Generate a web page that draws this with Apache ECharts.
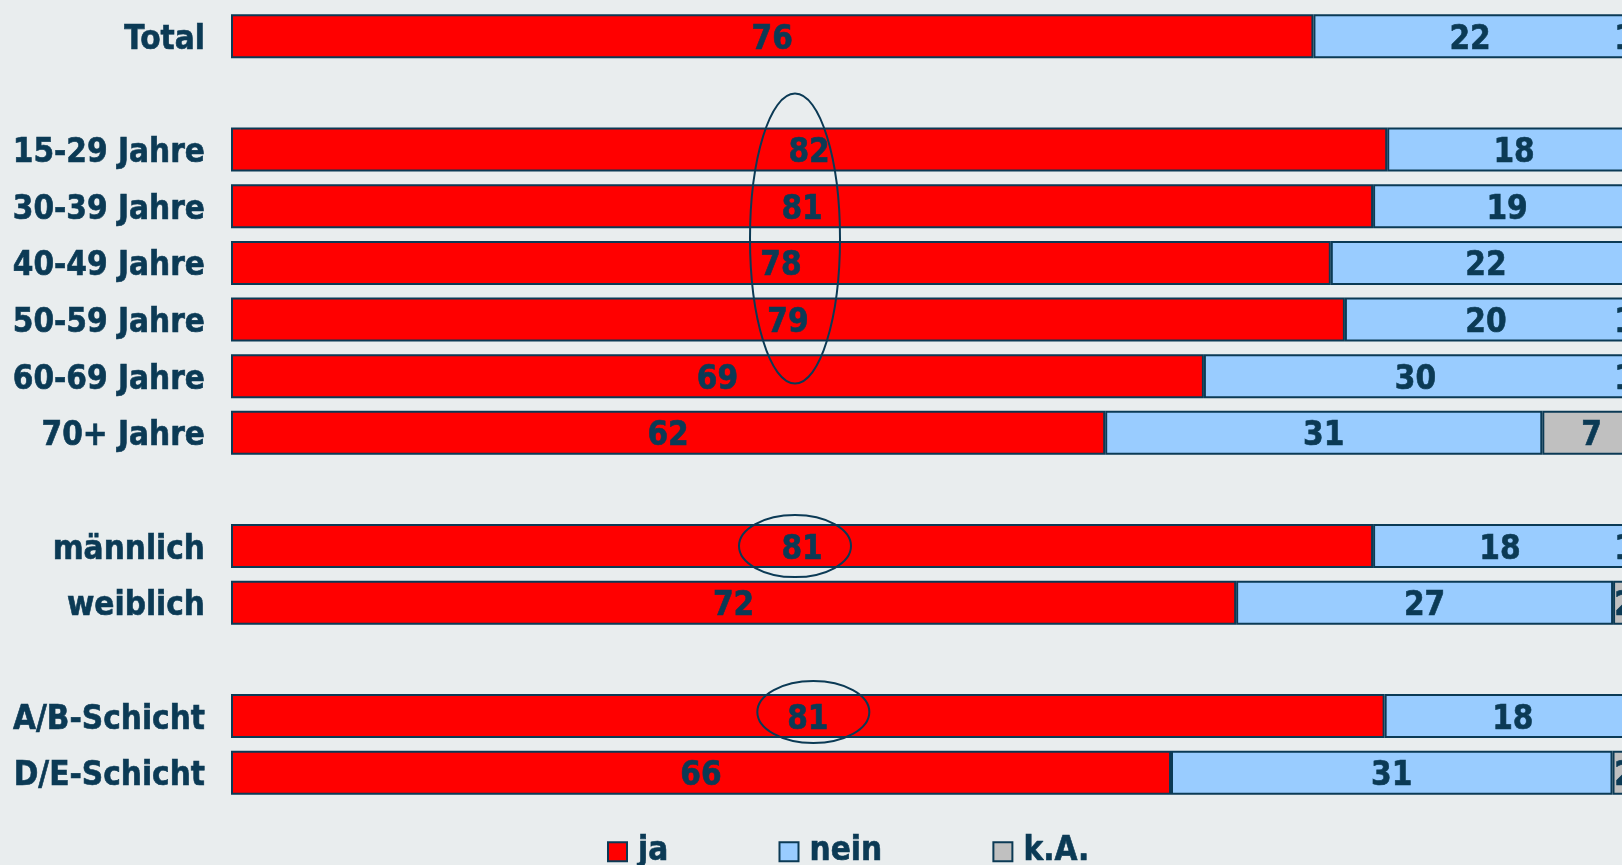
<!DOCTYPE html>
<html>
<head>
<meta charset="utf-8">
<script src="https://cdn.jsdelivr.net/npm/echarts@6/dist/echarts.min.js"></script>
<style>
  html, body { margin: 0; padding: 0; background: #e9edee; }
  #chart { width: 1622px; height: 865px; }
</style>
</head>
<body>
<div id="chart"></div>
<script>
// Rows from top to bottom; null marks an empty spacer row between groups
const categories = ['Total', null, '15-29 Jahre', '30-39 Jahre', '40-49 Jahre', '50-59 Jahre', '60-69 Jahre', '70+ Jahre', null, 'männlich', 'weiblich', null, 'A/B-Schicht', 'D/E-Schicht'];
const ja   = [76, null, 82, 81, 78, 79, 69, 62, null, 81, 72, null, 81, 66];
const nein = [22, null, 18, 19, 22, 20, 30, 31, null, 18, 27, null, 18, 31];
const ka   = [1,  null, 0,  0,  0,  1,  1,  7,  null, 1,  2,  null, 0,  2];
const seriesNames = ['ja', 'nein', 'k.A.'];

const NAVY = '#0b3a55';
const FONT = '"DejaVu Sans Condensed", "DejaVu Sans", sans-serif';
const colors = ['#ff0000', '#99ccff', '#c0c0c0'];
const textBase = {
  color: NAVY,
  fontSize: 33,
  fontWeight: 'bold',
  fontFamily: FONT,
  textBorderColor: NAVY,
  textBorderWidth: 0.6
};

// spacer rows need distinct (blank) names on the category axis
const axisNames = categories.map((c, i) => c === null ? ' '.repeat(i + 1) : c);
const rowSum = categories.map((c, i) => c === null ? 0 : ja[i] + nein[i] + ka[i]);

// 100% stacked: each segment is its share of the row; labels keep the stated value
function toItems(values) {
  return values.map((v, i) => {
    if (v === null || v === 0) return { value: '-', raw: v };
    const share = v / rowSum[i] * 100;
    const item = { value: share, raw: v };
    // narrow segments at the right end keep their label inside the plot
    if (share < 4) item.label = { position: 'insideRight', distance: 6 };
    return item;
  });
}

const chart = echarts.init(document.getElementById('chart'));

const option = {
  backgroundColor: '#e9edee',
  animation: false,
  grid: { left: 231, top: 8, width: 1410, height: 793, containLabel: false, outerBoundsMode: 'none' },
  xAxis: { type: 'value', min: 0, max: 100, show: false },
  yAxis: {
    type: 'category',
    inverse: true,
    data: axisNames,
    axisLine: { show: false },
    axisTick: { show: false },
    splitLine: { show: false },
    axisLabel: {
      margin: 26,
      formatter: v => '{t|' + v + '}',
      rich: { t: Object.assign({ padding: [8, 0, 0, 0] }, textBase) }
    }
  },
  legend: {
    left: 602,
    top: 830,
    itemWidth: 19,
    itemHeight: 19,
    itemGap: 110,
    icon: 'rect',
    data: seriesNames,
    textStyle: Object.assign({ padding: [0, 0, 0, 6] }, textBase)
  },
  series: [ja, nein, ka].map((vals, k) => ({
    name: seriesNames[k],
    type: 'bar',
    stack: 'all',
    barWidth: 44,
    data: toItems(vals),
    itemStyle: { color: colors[k], borderColor: NAVY, borderWidth: 2 },
    label: Object.assign({
      show: true,
      position: 'inside',
      offset: [0, 4],
      formatter: p => (p.data && p.data.raw) ? String(p.data.raw) : ''
    }, textBase)
  }))
};

chart.setOption(option);

// Highlight rings drawn around selected "ja" values, placed through the axes
const px = (x, row) => chart.convertToPixel({ gridIndex: 0 }, [x, row]);
const top15 = px(40, categories.indexOf('15-29 Jahre'));
const bot50 = px(40, categories.indexOf('50-59 Jahre'));
const male = px(40, categories.indexOf('männlich'));
const ab = px(41.3, categories.indexOf('A/B-Schicht'));

const ring = (cx, cy, rx, ry) => ({
  type: 'ellipse',
  z: 100,
  shape: { cx: cx, cy: cy, rx: rx, ry: ry },
  style: { fill: 'none', stroke: NAVY, lineWidth: 2 }
});

chart.setOption({
  graphic: [
    ring(top15[0], (top15[1] + bot50[1]) / 2 + 4, 45, (bot50[1] - top15[1]) / 2 + 60),
    ring(male[0], male[1], 56, 31),
    ring(ab[0], ab[1] - 4, 56, 31)
  ]
});
</script>
</body>
</html>
